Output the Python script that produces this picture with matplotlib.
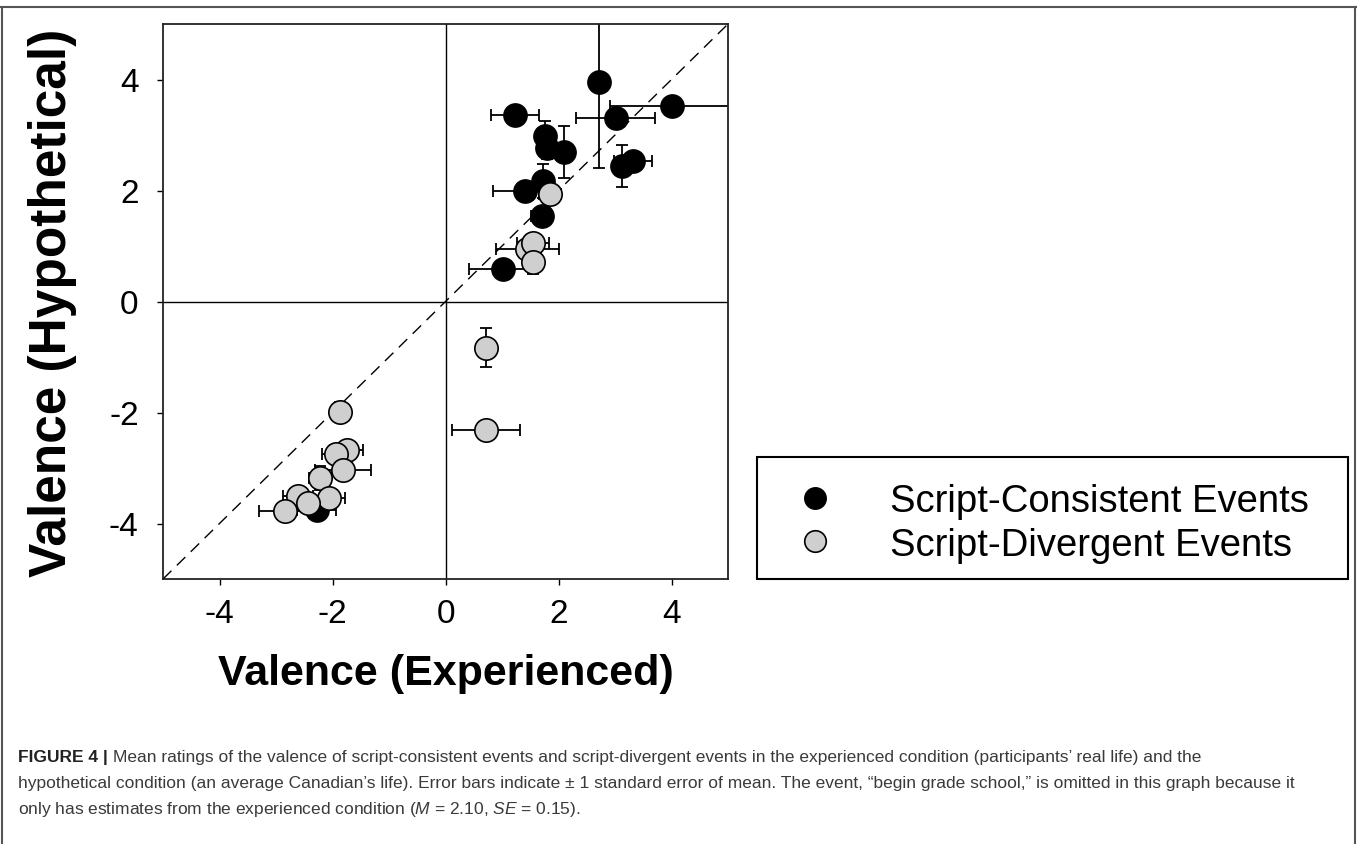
import matplotlib
matplotlib.use('Agg')
import matplotlib.pyplot as plt
from matplotlib.lines import Line2D
from matplotlib.patches import Rectangle

# ---------------- data ----------------
consistent_x = [2.72, 4.01, 3.01, 1.23, 1.76, 1.80, 2.10, 3.12, 3.32, 1.41, 1.72, 1.70, 1.01, -2.28]
consistent_y = [3.96, 3.53, 3.30, 3.36, 2.98, 2.76, 2.70, 2.44, 2.54, 1.99, 2.17, 1.54, 0.58, -3.75]
consistent_xerr = [0.05, 1.10, 0.70, 0.42, 0.10, 0.10, 0.10, 0.10, 0.33, 0.57, 0.10, 0.19, 0.59, 0.35]
consistent_yerr = [1.55, 0.10, 0.10, 0.10, 0.27, 0.20, 0.47, 0.38, 0.10, 0.10, 0.30, 0.10, 0.10, 0.10]

divergent_x = [1.85, 1.45, 1.55, 1.55, 0.72, 0.72, -1.87, -1.75, -1.93, -1.81, -2.22, -2.07, -2.61, -2.43, -2.84]
divergent_y = [1.93, 0.95, 1.06, 0.72, -0.83, -2.31, -1.99, -2.67, -2.74, -3.04, -3.18, -3.54, -3.51, -3.63, -3.78]
divergent_xerr = [0.20, 0.56, 0.28, 0.15, 0.10, 0.60, 0.15, 0.29, 0.26, 0.50, 0.20, 0.29, 0.26, 0.20, 0.46]
divergent_yerr = [0.10, 0.10, 0.10, 0.22, 0.35, 0.10, 0.18, 0.10, 0.10, 0.10, 0.22, 0.10, 0.10, 0.10, 0.10]

ticks = [-4, -2, 0, 2, 4]
tick_labels = ['-4', '-2', '0', '2', '4']
series_labels = ['Script-Consistent Events', 'Script-Divergent Events']
xlabel = 'Valence (Experienced)'
ylabel = 'Valence (Hypothetical)'
caption_bold = 'FIGURE 4 | '
caption_lines = [
    'Mean ratings of the valence of script-consistent events and script-divergent events in the experienced condition (participants\u2019 real life) and the',
    'hypothetical condition (an average Canadian\u2019s life). Error bars indicate \u00b1 1 standard error of mean. The event, \u201cbegin grade school,\u201d is omitted in this graph because it',
    r'only has estimates from the experienced condition ($M$ = 2.10, $SE$ = 0.15).',
]

# ---------------- style ----------------
plt.rcParams['font.family'] = ['Liberation Sans', 'DejaVu Sans']
plt.rcParams['mathtext.fontset'] = 'custom'
plt.rcParams['mathtext.rm'] = 'Liberation Sans'
plt.rcParams['mathtext.it'] = 'Liberation Sans:italic'

W, H = 1357, 845
fig = plt.figure(figsize=(W / 100, H / 100), dpi=100)


def fx(px):
    return px / W


def fy(py):
    return 1 - py / H


GRAY = '#cfcfcf'

ax = fig.add_axes([fx(163), fy(580), (728 - 163) / W, (580 - 25) / H])
ax.set_xlim(-5, 5)
ax.set_ylim(-5, 5)

ax.axhline(0, color='black', lw=1.0, zorder=1)
ax.axvline(0, color='black', lw=1.0, zorder=1)
ax.plot([-5, 5], [-5, 5], color='black', lw=1.0, ls=(0, (8.5, 5.5)), zorder=1)

ax.errorbar(consistent_x, consistent_y, xerr=consistent_xerr, yerr=consistent_yerr,
            fmt='none', ecolor='black', elinewidth=1.3, capsize=4.2, capthick=1.3, zorder=2)
ax.errorbar(divergent_x, divergent_y, xerr=divergent_xerr, yerr=divergent_yerr,
            fmt='none', ecolor='black', elinewidth=1.3, capsize=4.2, capthick=1.3, zorder=2)
ax.plot(consistent_x, consistent_y, 'o', ms=16.8, mfc='black', mec='black', mew=1.0, zorder=3)
ax.plot(divergent_x, divergent_y, 'o', ms=16.8, mfc=GRAY, mec='black', mew=1.2, zorder=4)

for s in ax.spines.values():
    s.set_linewidth(1.3)
    s.set_color('#222222')

ax.set_xticks(ticks)
ax.set_xticklabels(tick_labels)
ax.set_yticks(ticks)
ax.set_yticklabels(tick_labels)
ax.tick_params(axis='both', direction='out', length=4.5, width=1.0, labelsize=24)
ax.tick_params(axis='x', pad=9)
ax.tick_params(axis='y', pad=13)

ax.set_xlabel(xlabel, fontsize=31, fontweight='bold')
ax.xaxis.set_label_coords(0.5, -0.133)
ax.set_ylabel(ylabel, fontsize=37, fontweight='bold')
ax.yaxis.set_label_coords(-0.152, 0.5)

# ---------------- legend ----------------
fig.add_artist(Rectangle((fx(757), fy(580)), (1348 - 757) / W, (580 - 458) / H,
                         transform=fig.transFigure, fill=False, lw=1.5, ec='black'))
handles = [Line2D([], [], marker='o', ls='none', ms=15.5, mfc='black', mec='black'),
           Line2D([], [], marker='o', ls='none', ms=15.5, mfc=GRAY, mec='black', mew=1.2)]
fig.legend(handles, series_labels, loc='center left',
           bbox_to_anchor=(fx(796), fy(524)), frameon=False, fontsize=27.5,
           borderpad=0, borderaxespad=0, handlelength=1.0, handletextpad=1.45,
           labelspacing=0.2)

# ---------------- frame & caption ----------------
frame_color = '#555555'
fig.add_artist(Line2D([0, 1], [fy(8), fy(8)], transform=fig.transFigure, color=frame_color, lw=1.5))
fig.add_artist(Line2D([fx(2), fx(2)], [fy(8), 0], transform=fig.transFigure, color=frame_color, lw=1.5))
fig.add_artist(Line2D([fx(1355), fx(1355)], [fy(8), 0], transform=fig.transFigure, color=frame_color, lw=1.5))

cap_color = '#3a3a3a'
ys = [758, 784, 810]
fig.canvas.draw()
renderer = fig.canvas.get_renderer()

# fit caption size so that the second line spans the same width as in the reference
probe = fig.text(0, 0, caption_lines[1], fontsize=10)
pw = probe.get_window_extent(renderer).width
probe.remove()
cap_size = 10 * (1300 - 18) / pw

tb = fig.text(fx(18), fy(ys[0]), caption_bold, fontsize=cap_size, fontweight='bold',
              color='#222222', va='center', ha='left')
bb = tb.get_window_extent(renderer)
fig.text(bb.x1 / W, fy(ys[0]), caption_lines[0], fontsize=cap_size, color=cap_color,
         va='center', ha='left')
fig.text(fx(18), fy(ys[1]), caption_lines[1], fontsize=cap_size, color=cap_color,
         va='center', ha='left')
fig.text(fx(18), fy(ys[2]), caption_lines[2], fontsize=cap_size, color=cap_color,
         va='center', ha='left')

fig.savefig('out.png', dpi=100)
